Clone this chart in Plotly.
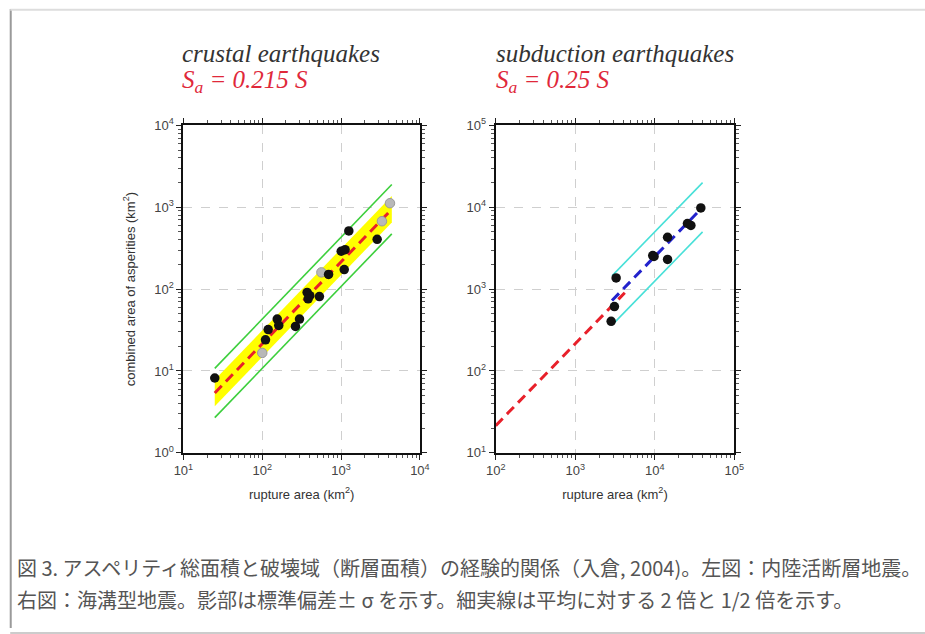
import math
import plotly.graph_objects as go

# empirically measured mapping: screen = S*(fig + M) + E
S, M, E = 0.972, 8.0, 1.0
W, H = 938, 636


def f(v):  # screen pixel -> figure pixel
    return (v - E) / S - M


def px(x):
    return f(x) / W


def pxd(x):  # small horizontal correction for axis domains
    return px(181 + (x - 181) * 554 / 559)


def py(y):
    return 1 - f(y) / H


# ---------------- data ----------------
# crustal earthquakes (left panel)
crustal_S = [25, 110, 119, 155, 162, 264, 297, 371, 401, 382, 531, 694, 1004, 1125, 1097, 1254, 2870]
crustal_Sa = [8.2, 24, 32, 43, 36, 35, 43, 91, 83, 76, 81, 151, 290, 303, 173, 513, 405]
crustal_gray_S = [100, 563, 3300, 4170]
crustal_gray_Sa = [16.6, 160, 675, 1120]
crustal_coef = 0.215
crustal_range = [25, 4400]
sigma_factor = 1.45

# subduction earthquakes (right panel)
subd_S = [3270, 3110, 2830, 9440, 9800, 14500, 14500, 25800, 28500, 38000]
subd_Sa = [1370, 611, 404, 2570, 2500, 2300, 4300, 6330, 6000, 9800]
subd_coef = 0.25
subd_range = [2900, 40000]
red_ext_range = [100, 4200]

x_ticks_left = [10, 100, 1000, 10000]
y_ticks_left = [1, 10, 100, 1000, 10000]
x_ticks_right = [100, 1000, 10000, 100000]
y_ticks_right = [10, 100, 1000, 10000, 100000]


def lbl(v):
    return "10<sup>%d</sup>" % round(math.log10(v))


def minor_vals(tv):
    out = []
    for d in tv[:-1]:
        out += [d * k for k in range(2, 10)]
    return out


def line_pts(rng, k):
    return rng, [k * v for v in rng]


fig = go.Figure()

# ---------- left panel ----------
bx, by = line_pts(crustal_range, crustal_coef)
band_x = bx + bx[::-1]
band_y = [v * sigma_factor for v in by] + [v / sigma_factor for v in by[::-1]]
fig.add_trace(go.Scatter(x=band_x, y=band_y, fill="toself", fillcolor="#ffff00",
                         line=dict(width=0), mode="lines", xaxis="x", yaxis="y",
                         hoverinfo="skip", showlegend=False))
fig.add_trace(go.Scatter(x=bx, y=[v * 2 for v in by], mode="lines",
                         line=dict(color="#3ccf3c", width=1.6), xaxis="x", yaxis="y", showlegend=False))
fig.add_trace(go.Scatter(x=bx, y=[v / 2 for v in by], mode="lines",
                         line=dict(color="#3ccf3c", width=1.6), xaxis="x", yaxis="y", showlegend=False))
fig.add_trace(go.Scatter(x=bx, y=by, mode="lines",
                         line=dict(color="#e8202a", width=3, dash="10px,6px"),
                         xaxis="x", yaxis="y", showlegend=False))
fig.add_trace(go.Scatter(x=crustal_gray_S, y=crustal_gray_Sa, mode="markers",
                         marker=dict(size=9.5, color="#b8b8b8", line=dict(color="#9a9a9a", width=1)),
                         xaxis="x", yaxis="y", showlegend=False))
fig.add_trace(go.Scatter(x=crustal_S, y=crustal_Sa, mode="markers",
                         marker=dict(size=9.5, color="#111111"),
                         xaxis="x", yaxis="y", showlegend=False))

# ---------- right panel ----------
rx, ry = line_pts(red_ext_range, crustal_coef)
fig.add_trace(go.Scatter(x=rx, y=ry, mode="lines",
                         line=dict(color="#e8202a", width=3, dash="10px,6px"),
                         xaxis="x2", yaxis="y2", showlegend=False))
sx, sy = line_pts(subd_range, subd_coef)
fig.add_trace(go.Scatter(x=sx, y=[v * 2 for v in sy], mode="lines",
                         line=dict(color="#48e0d8", width=1.6), xaxis="x2", yaxis="y2", showlegend=False))
fig.add_trace(go.Scatter(x=sx, y=[v / 2 for v in sy], mode="lines",
                         line=dict(color="#48e0d8", width=1.6), xaxis="x2", yaxis="y2", showlegend=False))
fig.add_trace(go.Scatter(x=sx, y=sy, mode="lines",
                         line=dict(color="#2222cc", width=3, dash="10px,6px"),
                         xaxis="x2", yaxis="y2", showlegend=False))
fig.add_trace(go.Scatter(x=subd_S, y=subd_Sa, mode="markers",
                         marker=dict(size=9.5, color="#111111"),
                         xaxis="x2", yaxis="y2", showlegend=False))

tickfont = dict(family="Liberation Sans, Arial", size=13, color="#444444")
titlefont = dict(family="Liberation Sans, Arial", size=13, color="#333333")


def axis(domain, rng, tv, anchor, title=None, standoff=14):
    d = dict(type="log", domain=domain, range=rng, anchor=anchor,
             tickmode="array", tickvals=tv, ticktext=[lbl(v) for v in tv], tickfont=tickfont,
             showline=True, linecolor="#111111", linewidth=2, mirror="allticks",
             ticks="outside", ticklen=5, tickcolor="#222222", tickwidth=1,
             showgrid=True, gridcolor="#cfcfcf", griddash="dash", gridwidth=1,
             minor=dict(tickmode="array", tickvals=minor_vals(tv), ticks="outside",
                        ticklen=3, tickcolor="#555555", tickwidth=1, showgrid=False),
             zeroline=False, fixedrange=True)
    if title:
        d["title"] = dict(text=title, font=titlefont, standoff=standoff)
    return d


xl = [pxd(181), pxd(418)]
xr = [pxd(494), pxd(733)]
yd = [py(452), py(125)]

fig.update_layout(
    width=W, height=H, margin=dict(l=0, r=0, t=0, b=0),
    paper_bgcolor="white", plot_bgcolor="white", showlegend=False,
    xaxis=axis(xl, [1, 4], x_ticks_left, "y", "rupture area (km<sup>2</sup>)", 12),
    yaxis=axis(yd, [0, 4], y_ticks_left, "x", "combined area of asperities (km<sup>2</sup>)", 16),
    xaxis2=axis(xr, [2, 5], x_ticks_right, "y2", "rupture area (km<sup>2</sup>)", 12),
    yaxis2=axis(yd, [1, 5], y_ticks_right, "x2"),
)

serif = "Liberation Serif, Times New Roman, serif"
ann = [
    (178, 53, "<i>crustal earthquakes</i>", "#333333"),
    (178, 81, "<i>S<sub>a</sub> = 0.215 S</i>", "#e0283a"),
    (489, 53, "<i>subduction earthquakes</i>", "#333333"),
    (489, 81, "<i>S<sub>a</sub> = 0.25 S</i>", "#e0283a"),
]
for x, y, t, c in ann:
    fig.add_annotation(x=px(x), y=py(y), xref="paper", yref="paper", text=t,
                       showarrow=False, xanchor="left", yanchor="middle",
                       font=dict(family=serif, size=25, color=c))

cap1 = "図 3. アスペリティ総面積と破壊域（断層面積）の経験的関係（入倉, 2004)。左図：内陸活断層地震。"
cap2 = "右図：海溝型地震。影部は標準偏差± σ を示す。細実線は平均に対する 2 倍と 1/2 倍を示す。"
for y, t in [(567, cap1), (599, cap2)]:
    fig.add_annotation(x=px(14), y=py(y), xref="paper", yref="paper", text=t,
                       showarrow=False, xanchor="left", yanchor="middle",
                       font=dict(family="Noto Sans CJK JP", size=20.0, color="#555555"))

# document frame
fig.add_shape(type="line", xref="paper", yref="paper", x0=px(9.5), x1=px(9.5),
              y0=1, y1=0, line=dict(color="#9a9a9a", width=2))
fig.add_shape(type="line", xref="paper", yref="paper", x0=px(9), x1=1,
              y0=1 - 0.8 / H, y1=1 - 0.8 / H, line=dict(color="#dddddd", width=2))
fig.add_shape(type="line", xref="paper", yref="paper", x0=px(9), x1=1,
              y0=py(632), y1=py(632), line=dict(color="#cccccc", width=2))

fig.write_html("out.html")
